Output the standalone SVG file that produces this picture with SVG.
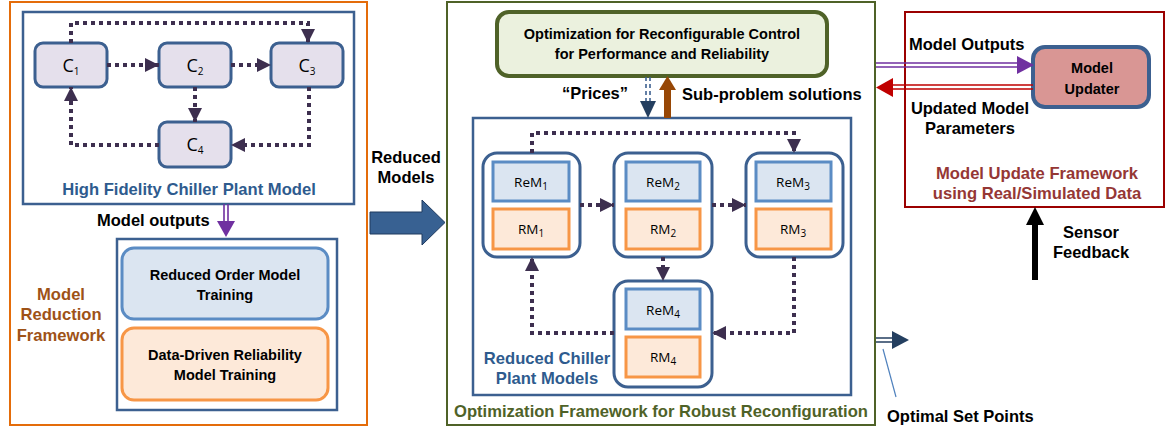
<svg xmlns="http://www.w3.org/2000/svg" width="1166" height="436" viewBox="0 0 1166 436">
<defs>
<style>
.frame{fill:none;stroke-width:2}
.bluebox{fill:#fff;stroke:#3C6090;stroke-width:2.5}
.cnode{fill:#E5E0EC;stroke:#3C6090;stroke-width:3}
.rem{fill:#DBE5F1;stroke:#5B8CC4;stroke-width:3}
.rm{fill:#FDE9D9;stroke:#F79646;stroke-width:3}
.big{fill:#fff;stroke:#3C6090;stroke-width:3}
.dot{fill:none;stroke:#3D2F4F;stroke-width:4;stroke-dasharray:4 4}
.lbl{font-family:"Liberation Sans",Arial,sans-serif;font-weight:bold;font-size:16.5px;fill:#000}
.ttl{font-family:"Liberation Sans",Arial,sans-serif;font-weight:bold;font-size:16.6px;text-anchor:middle}
.box{font-family:"Liberation Sans",Arial,sans-serif;font-weight:bold;font-size:14.5px;fill:#000;text-anchor:middle}
.cl{font-family:"Open Sans","Noto Sans",sans-serif;font-size:18px;fill:#000;text-anchor:middle}
.ml{font-family:"Open Sans","Noto Sans",sans-serif;font-size:13.5px;fill:#000;text-anchor:middle}
.sub{font-size:10px}
</style>
<marker id="dh" markerUnits="userSpaceOnUse" markerWidth="14" markerHeight="14" refX="14" refY="7" orient="auto">
<path d="M0,0 L14,7 L0,14 z" fill="#3D2F4F"/>
</marker>
</defs>

<!-- Frames -->
<rect class="frame" x="10" y="2" width="357" height="423" stroke="#E46C0A"/>
<rect class="frame" x="447" y="2" width="428" height="423" stroke="#4F6228"/>
<rect class="frame" x="905" y="12" width="259" height="195" stroke="#9B0000"/>

<!-- High fidelity model -->
<g id="hifi">
<rect class="bluebox" x="23" y="12" width="331" height="192"/>
<text class="ttl" x="189" y="195" fill="#2E5B8E">High Fidelity Chiller Plant Model</text>
</g>
<g id="c1"><rect class="cnode" x="35" y="43" width="72" height="44" rx="8"/><text class="cl" x="71" y="72">C<tspan class="sub" dy="3">1</tspan></text></g>
<g id="c2"><rect class="cnode" x="159" y="43" width="72" height="44" rx="8"/><text class="cl" x="195" y="72">C<tspan class="sub" dy="3">2</tspan></text></g>
<g id="c3"><rect class="cnode" x="271" y="43" width="72" height="44" rx="8"/><text class="cl" x="307" y="72">C<tspan class="sub" dy="3">3</tspan></text></g>
<g id="c4"><rect class="cnode" x="159" y="122" width="72" height="45" rx="8"/><text class="cl" x="195" y="151">C<tspan class="sub" dy="3">4</tspan></text></g>

<!-- Model reduction -->
<g id="reduction">
<rect class="bluebox" x="117" y="239" width="220" height="171"/>
<text class="ttl" x="61" y="300" fill="#9E5217">Model</text>
<text class="ttl" x="61" y="320" fill="#9E5217">Reduction</text>
<text class="ttl" x="61" y="341" fill="#9E5217">Framework</text>
</g>
<g id="rom"><rect class="rem" x="122" y="248" width="206" height="71" rx="12" stroke-width="3.5"/><text class="box" x="225" y="280">Reduced Order Model</text><text class="box" x="225" y="300">Training</text></g>
<g id="drm"><rect class="rm" x="122" y="328" width="206" height="72" rx="12" stroke-width="3.5"/><text class="box" x="225" y="360">Data-Driven Reliability</text><text class="box" x="225" y="380">Model Training</text></g>

<!-- Optimization -->
<g id="opt">
<rect x="497" y="12" width="330" height="64" rx="12" fill="#EBF1DE" stroke="#4F6228" stroke-width="4"/>
<text class="box" x="662" y="39">Optimization for Reconfigurable Control</text>
<text class="box" x="662" y="59">for Performance and Reliability</text>
</g>
<g id="reduced">
<rect class="bluebox" x="473" y="118" width="378" height="277"/>
<text class="ttl" x="547" y="364" fill="#2E5B8E">Reduced Chiller</text>
<text class="ttl" x="547" y="384" fill="#2E5B8E">Plant Models</text>
</g>
<text class="ttl" x="661" y="417" fill="#4F6228">Optimization Framework for Robust Reconfiguration</text>

<g id="n1"><rect class="big" x="483" y="153" width="97" height="104" rx="14"/>
<rect class="rem" x="493" y="162" width="76" height="39"/><text class="ml" x="531" y="187">ReM<tspan class="sub" dy="3">1</tspan></text>
<rect class="rm" x="493" y="209" width="76" height="40"/><text class="ml" x="531" y="234">RM<tspan class="sub" dy="3">1</tspan></text></g>
<g id="n2"><rect class="big" x="614" y="153" width="98" height="104" rx="14"/>
<rect class="rem" x="626" y="162" width="74" height="39"/><text class="ml" x="663" y="187">ReM<tspan class="sub" dy="3">2</tspan></text>
<rect class="rm" x="626" y="209" width="74" height="40"/><text class="ml" x="663" y="234">RM<tspan class="sub" dy="3">2</tspan></text></g>
<g id="n3"><rect class="big" x="746" y="153" width="97" height="104" rx="14"/>
<rect class="rem" x="756" y="162" width="75" height="39"/><text class="ml" x="793" y="187">ReM<tspan class="sub" dy="3">3</tspan></text>
<rect class="rm" x="756" y="209" width="75" height="40"/><text class="ml" x="793" y="234">RM<tspan class="sub" dy="3">3</tspan></text></g>
<g id="n4"><rect class="big" x="614" y="281" width="98" height="106" rx="14"/>
<rect class="rem" x="626" y="289" width="74" height="40"/><text class="ml" x="663" y="315">ReM<tspan class="sub" dy="3">4</tspan></text>
<rect class="rm" x="626" y="337" width="74" height="40"/><text class="ml" x="663" y="362">RM<tspan class="sub" dy="3">4</tspan></text></g>

<!-- Model updater -->
<g id="updater">
<rect x="1033" y="47" width="116" height="60" rx="12" fill="#D99694" stroke="#3C6090" stroke-width="4"/>
<text class="box" x="1092" y="73" font-size="16.5">Model</text>
<text class="box" x="1092" y="94" font-size="16.5">Updater</text>
</g>
<text class="ttl" x="1037" y="179" fill="#953735">Model Update Framework</text>
<text class="ttl" x="1037" y="199" fill="#953735">using Real/Simulated Data</text>

<!-- Labels -->
<text class="lbl" x="97" y="226">Model outputs</text>
<text class="lbl" x="406" y="163" text-anchor="middle">Reduced</text>
<text class="lbl" x="406" y="183" text-anchor="middle">Models</text>
<text class="lbl" x="562" y="99">“Prices”</text>
<text class="lbl" x="682" y="100">Sub-problem solutions</text>
<text class="lbl" x="909" y="50">Model Outputs</text>
<text class="lbl" x="970" y="114" text-anchor="middle">Updated Model</text>
<text class="lbl" x="970" y="134" text-anchor="middle">Parameters</text>
<text class="lbl" x="1091" y="238" text-anchor="middle">Sensor</text>
<text class="lbl" x="1091" y="258" text-anchor="middle">Feedback</text>
<text class="lbl" x="887" y="422">Optimal Set Points</text>

<!-- Connectors -->
<g id="connectors">
<path class="dot" d="M71,43 V23 H308 V43" marker-end="url(#dh)"/>
<path class="dot" d="M107,65 H159" marker-end="url(#dh)"/>
<path class="dot" d="M231,65 H271" marker-end="url(#dh)"/>
<path class="dot" d="M195,87 V122" marker-end="url(#dh)"/>
<path class="dot" d="M309,87 V145 H231" marker-end="url(#dh)"/>
<path class="dot" d="M159,145 H71 V87" marker-end="url(#dh)"/>

<path class="dot" d="M532,153 V133 H794 V153" marker-end="url(#dh)"/>
<path class="dot" d="M580,205 H614" marker-end="url(#dh)"/>
<path class="dot" d="M712,205 H746" marker-end="url(#dh)"/>
<path class="dot" d="M663,257 V281" marker-end="url(#dh)"/>
<path class="dot" d="M794,257 V333 H712" marker-end="url(#dh)"/>
<path class="dot" d="M614,333 H532 V257" marker-end="url(#dh)"/>

<!-- model outputs purple (down) -->
<path d="M224,204 V223 M228,204 V223" stroke="#7030A0" stroke-width="1.6" fill="none"/>
<polygon points="217,221 235,221 226,237" fill="#7030A0"/>

<!-- reduced models big arrow -->
<polygon points="370,212 422,212 422,200 445,222.5 422,245 422,234 370,234" fill="#386192" stroke="#1F3A5F" stroke-width="1"/>

<!-- prices -->
<path d="M646,77 V103 M650,77 V103" stroke="#3C6090" stroke-width="1.6" stroke-dasharray="4 3" fill="none"/>
<polygon points="640,101 656,101 648,118" fill="#243F60"/>
<!-- sub-problem solutions -->
<rect x="664" y="88" width="7" height="30" fill="#974706"/>
<polygon points="659,90 676,90 667.5,76" fill="#974706"/>

<!-- model outputs right -->
<path d="M876,63 H1018 M876,67 H1018" stroke="#7030A0" stroke-width="1.6" fill="none"/>
<polygon points="1017,56 1017,74 1034,65" fill="#7030A0"/>
<!-- updated parameters -->
<path d="M892,85 H1033 M892,89 H1033" stroke="#C00000" stroke-width="1.6" fill="none"/>
<polygon points="893,78 893,97 876,87.5" fill="#C00000"/>

<!-- sensor feedback -->
<rect x="1032" y="223" width="6" height="57" fill="#000"/>
<polygon points="1026,225 1044,225 1035,207" fill="#000"/>

<!-- optimal set points -->
<path d="M876,338 H895 M876,342 H895" stroke="#243F60" stroke-width="1.6" fill="none"/>
<polygon points="892,331 892,349 909,340" fill="#243F60"/>
<line x1="883" y1="349" x2="896" y2="397" stroke="#4F81BD" stroke-width="1.2"/>
</g>
</svg>
